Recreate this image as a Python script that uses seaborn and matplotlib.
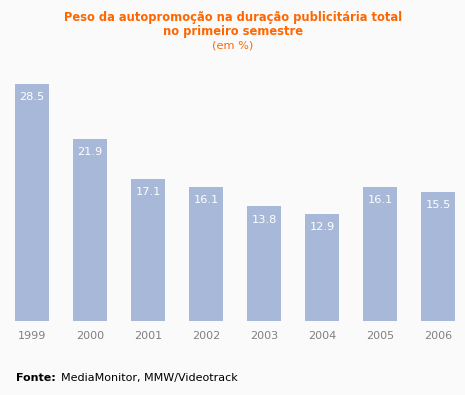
import matplotlib
matplotlib.use('Agg')
import matplotlib.pyplot as plt
import pandas as pd
import seaborn as sns

years = ['1999', '2000', '2001', '2002', '2003', '2004', '2005', '2006']
values = [28.5, 21.9, 17.1, 16.1, 13.8, 12.9, 16.1, 15.5]

df = pd.DataFrame({'ano': years, 'peso': values})

bg = '#fafafa'
fig = plt.figure(figsize=(4.65, 3.95), dpi=100, facecolor=bg)
ax = fig.add_axes([3 / 465, 74 / 395, 464 / 465, 237 / 395])
ax.set_facecolor(bg)

sns.barplot(data=df, x='ano', y='peso', color='#a8b8d8', saturation=1,
            width=0.586, ax=ax)

ax.set_xlim(-0.5, 7.5)
ax.set_ylim(0, 28.5)
for s in ax.spines.values():
    s.set_visible(False)
ax.set_yticks([])
ax.set_xlabel('')
ax.set_ylabel('')
ax.tick_params(axis='x', length=0, pad=7, labelsize=8, labelcolor='#808080')

for i, v in enumerate(values):
    ax.annotate(f'{v:.1f}', (i, v), xytext=(0, -6), textcoords='offset points',
                ha='center', va='top', color='white', fontsize=8.2)

orange = '#ff6600'
fig.text(233 / 465, 1 - 18 / 395, 'Peso da autopromoção na duração publicitária total',
         ha='center', va='center', color=orange, fontsize=8.3, fontweight='bold')
fig.text(233 / 465, 1 - 32 / 395, 'no primeiro semestre',
         ha='center', va='center', color=orange, fontsize=8.3, fontweight='bold')
fig.text(233 / 465, 1 - 45 / 395, '(em %)',
         ha='center', va='center', color=orange, fontsize=8.2)

fig.text(16 / 465, 1 - 378 / 395, 'Fonte:',
         ha='left', va='center', color='black', fontsize=8, fontweight='bold')
fig.text(61 / 465, 1 - 378 / 395, 'MediaMonitor, MMW/Videotrack',
         ha='left', va='center', color='black', fontsize=8)

fig.savefig('out.png', dpi=100, facecolor=bg)
